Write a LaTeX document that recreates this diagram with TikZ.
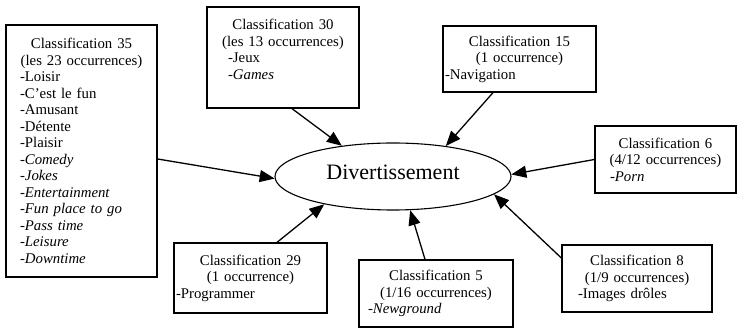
\documentclass[tikz,border=0pt]{standalone}
\usepackage{fontspec}
\setmainfont{Liberation Serif}
\usetikzlibrary{shapes.geometric,arrows.meta}
\setlength{\parindent}{0pt}
\newcommand{\ctrline}[1]{\makebox[\linewidth][c]{#1}}
\begin{document}
\begin{tikzpicture}[x=1pt,y=-1pt,
  cbox/.style={draw, line width=1.3pt, rectangle, inner ysep=2pt,
    font=\fontsize{14.8}{16.5}\selectfont, align=left},
  ellnode/.style={draw, ellipse, line width=1.1pt, inner sep=0pt,
    font=\fontsize{22}{26}\selectfont, text height=15pt, text depth=9pt},
  conn/.style={line width=1.3pt, -{Triangle[length=15pt,width=12pt]}}]
\useasboundingbox (0,0) rectangle (737,328);
\fill[white] (0,0) rectangle (737,328);

\node[ellnode, minimum width=236pt, minimum height=67pt] (ell) at (393,176.5) {Divertissement};

\node[cbox, minimum width=151pt, minimum height=252pt, inner xsep=14pt, text width=123pt] (b35) at (81.5,151) {%
\ctrline{Classification 35}\\
\ctrline{(les 23 occurrences)}\\
-Loisir\\
-C’est le fun\\
-Amusant\\
-Détente\\
-Plaisir\\
\textit{-Comedy}\\
\textit{-Jokes}\\
\textit{-Entertainment}\\
\textit{-Fun place to go}\\
\textit{-Pass time}\\
\textit{-Leisure}\\
\textit{-Downtime}};

\node[cbox, minimum width=152pt, minimum height=101pt, inner xsep=21pt, text width=110pt] (b30) at (283,57.5) {%
\ctrline{Classification 30}\\
\ctrline{(les 13 occurrences)}\\
-Jeux\\
\textit{-Games}\\
\mbox{}};

\node[cbox, minimum width=153pt, minimum height=66pt, inner xsep=2pt, text width=149pt] (b15) at (519.5,59) {%
\ctrline{Classification 15}\\
\ctrline{(1 occurrence)}\\
-Navigation};

\node[cbox, minimum width=141pt, minimum height=67pt, inner xsep=15pt, text width=111pt] (b6) at (665.5,159.5) {%
\ctrline{Classification 6}\\
\ctrline{(4/12 occurrences)}\\
\textit{-Porn}};

\node[cbox, minimum width=153pt, minimum height=70pt, inner xsep=2pt, text width=149pt] (b29) at (250.5,278) {%
\ctrline{Classification 29}\\
\ctrline{(1 occurrence)}\\
-Programmer};

\node[cbox, minimum width=154pt, minimum height=67pt, inner xsep=9pt, text width=136pt] (b5) at (436,293.5) {%
\ctrline{Classification 5}\\
\ctrline{(1/16 occurrences)}\\
\textit{-Newground}};

\node[cbox, minimum width=150pt, minimum height=67pt, inner xsep=16pt, text width=118pt] (b8) at (637,278.5) {%
\ctrline{Classification 8}\\
\ctrline{(1/9 occurrences)}\\
-Images drôles};

\draw[conn] ([yshift=-8pt]b35.east) -- (ell.181);
\draw[conn] ([xshift=9pt]b30.south) -- (ell.149.4);
\draw[conn] ([xshift=-26.5pt]b15.south) -- (ell.30);
\draw[conn] (b6.west) -- (ell.1);
\draw[conn] ([xshift=26.5pt]b29.north) -- (ell.202);
\draw[conn] ([xshift=-11pt]b5.north) -- (ell.297);
\draw[conn] ([yshift=20.5pt]b8.west) -- (ell.350.6);
\end{tikzpicture}
\end{document}
